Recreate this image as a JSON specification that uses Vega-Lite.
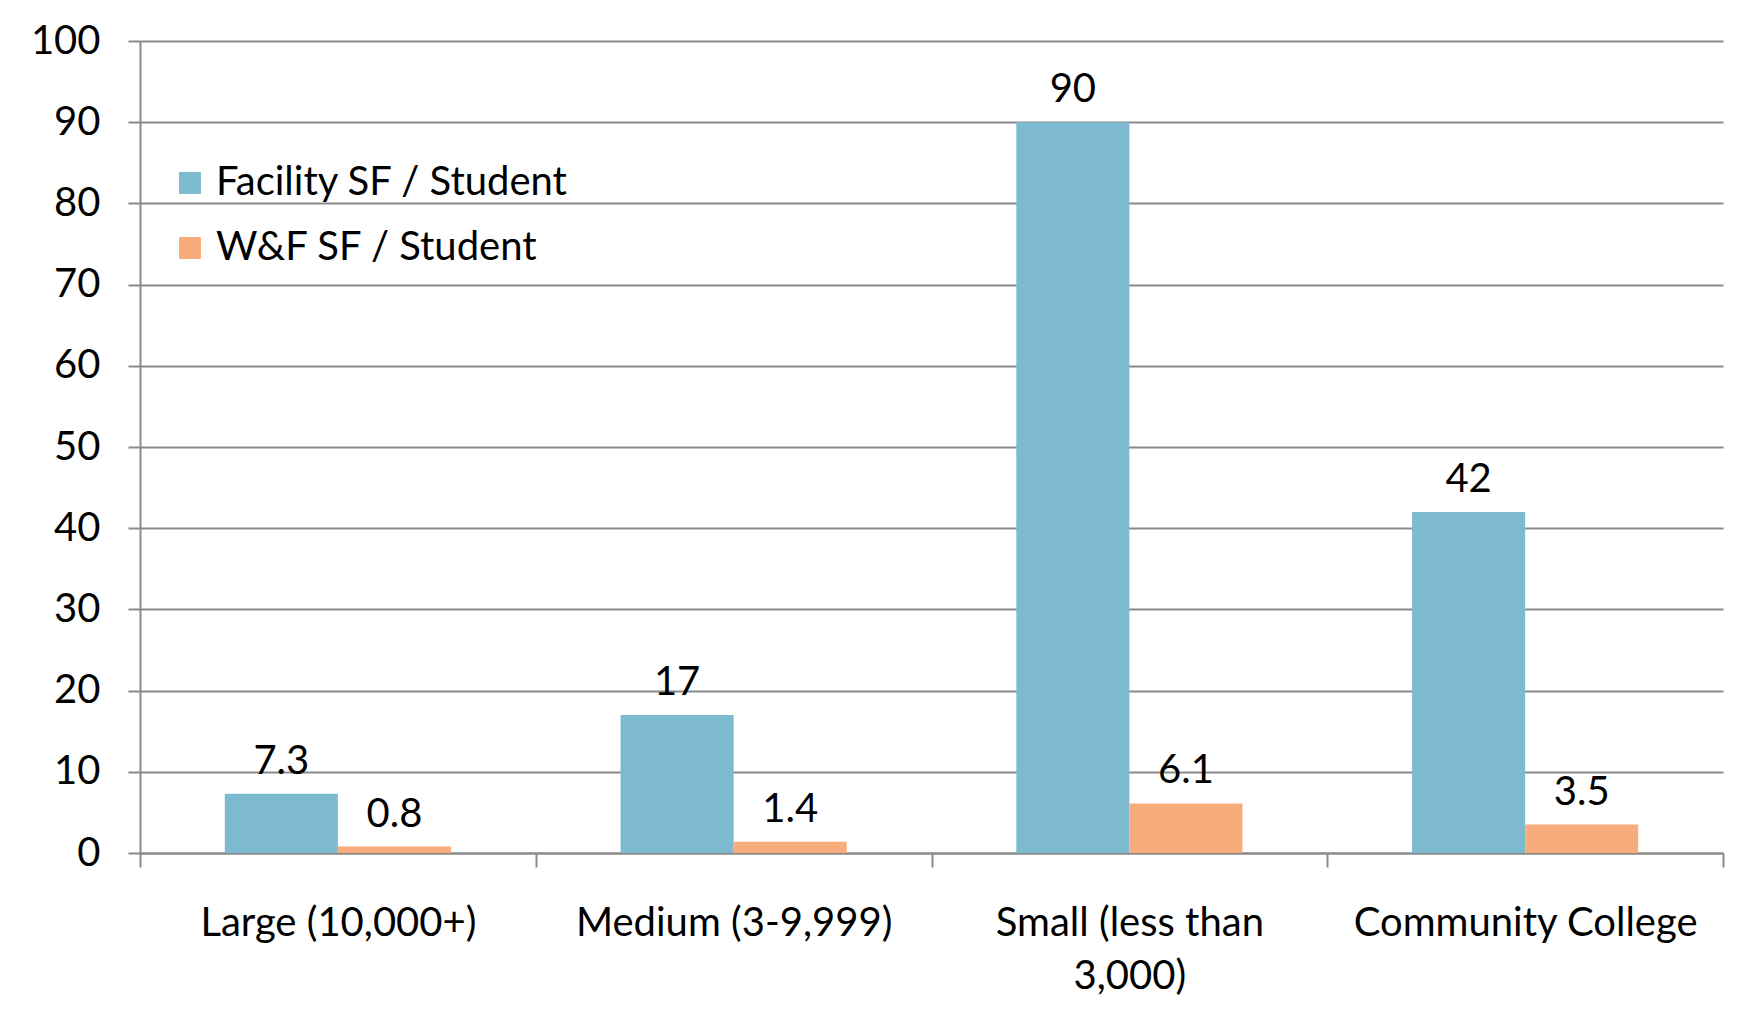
{
  "$schema": "https://vega.github.io/schema/vega-lite/v6.json",
  "autosize": {"type": "none"},
  "width": 1583,
  "height": 812,
  "padding": {"left": 140, "top": 41, "right": 20, "bottom": 170},
  "background": "white",
  "config": {
    "font": "Lato",
    "view": {"stroke": null},
    "axis": {"labelFont": "Lato", "labelColor": "black", "labelFontSize": 40, "labelLimit": 0, "domainColor": "#8a8a8a", "tickColor": "#8a8a8a", "gridColor": "#8a8a8a", "domainWidth": 2, "tickWidth": 2, "gridWidth": 2}
  },
  "data": {
    "values": [
      {"category": "Large (10,000+)", "series": "Facility SF / Student", "value": 7.3},
      {"category": "Large (10,000+)", "series": "W&F SF / Student", "value": 0.8},
      {"category": "Medium (3-9,999)", "series": "Facility SF / Student", "value": 17},
      {"category": "Medium (3-9,999)", "series": "W&F SF / Student", "value": 1.4},
      {"category": "Small (less than 3,000)", "series": "Facility SF / Student", "value": 90},
      {"category": "Small (less than 3,000)", "series": "W&F SF / Student", "value": 6.1},
      {"category": "Community College", "series": "Facility SF / Student", "value": 42},
      {"category": "Community College", "series": "W&F SF / Student", "value": 3.5}
    ]
  },
  "encoding": {
    "x": {
      "field": "category", "type": "nominal", "sort": null,
      "scale": {"paddingInner": 0, "paddingOuter": 0},
      "axis": {"title": null, "labelAngle": 0, "tickBand": "extent", "tickSize": 14, "labelPadding": 36, "grid": false,
        "labelExpr": "datum.label == 'Small (less than 3,000)' ? ['Small (less than', '3,000)'] : datum.label",
        "labelLineHeight": 53}
    },
    "xOffset": {"field": "series", "type": "nominal", "scale": {"paddingInner": 0, "paddingOuter": 0.75}},
    "y": {
      "field": "value", "type": "quantitative",
      "scale": {"domain": [0, 100], "nice": false},
      "axis": {"title": null, "values": [0,10,20,30,40,50,60,70,80,90,100], "tickSize": 12, "labelPadding": 28, "grid": true}
    }
  },
  "layer": [
    {
      "mark": {"type": "bar"},
      "encoding": {
        "color": {
          "field": "series", "type": "nominal",
          "scale": {"domain": ["Facility SF / Student", "W&F SF / Student"], "range": ["#7EBACF", "#F8AC7B"]},
          "legend": {"title": null, "orient": "none", "legendX": 30, "legendY": 122, "symbolType": "square", "symbolSize": 480, "symbolStrokeWidth": 0, "labelFontSize": 40, "labelLimit": 0, "labelFont": "Lato", "labelColor": "black", "rowPadding": 25, "labelOffset": 6, "symbolOpacity": 1}
        }
      }
    },
    {
      "mark": {"type": "text", "baseline": "bottom", "dy": -12, "fontSize": 40, "font": "Lato", "color": "black"},
      "encoding": {"text": {"field": "value", "type": "nominal"}}
    }
  ]
}
